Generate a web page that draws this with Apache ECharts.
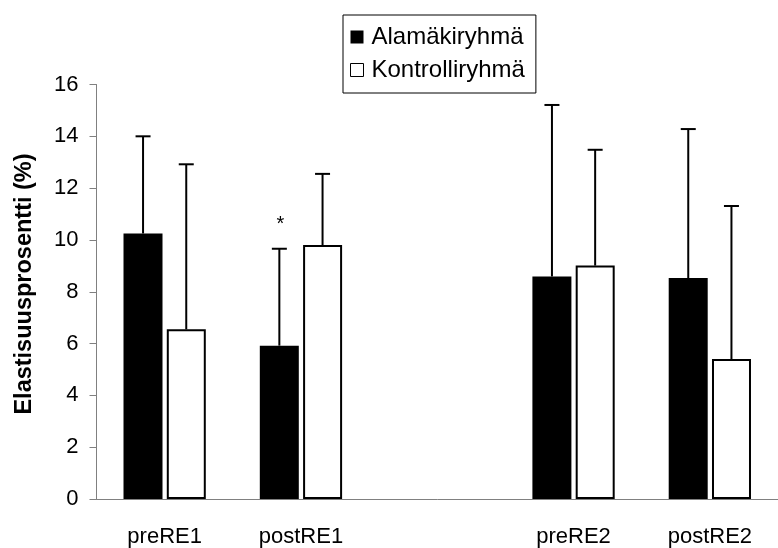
<!DOCTYPE html>
<html>
<head>
<meta charset="utf-8">
<script src="https://cdn.jsdelivr.net/npm/echarts@6/dist/echarts.min.js"></script>
<style>
html,body{margin:0;padding:0;background:#fff;}
#chart{width:778px;height:548px;}
</style>
</head>
<body>
<div id="chart"></div>
<script>
// Data
const categories = ['preRE1', 'postRE1', '', 'preRE2', 'postRE2'];
const alamakiMean = [10.25, 5.92, null, 8.59, 8.53];
const alamakiSD = [3.75, 3.74, null, 6.62, 5.75];
const kontrolliMean = [6.55, 9.80, null, 9.01, 5.40];
const kontrolliSD = [6.37, 2.75, null, 4.47, 5.91];
const alamakiSignificance = ['', '*', '', '', ''];
const kontrolliSignificance = ['', '', '', '', ''];
const yTicks = { min: 0, max: 16, interval: 2 };
const seriesNames = ['Alamäkiryhmä', 'Kontrolliryhmä'];
const yTitle = 'Elastisuusprosentti (%)';

const FONT = '"Liberation Sans", Arial, sans-serif';
const BAR_W = 39;
const HALF_OFFSET = 21.6;

function errData(mean, sd, sig) {
  const out = [];
  mean.forEach((m, i) => {
    if (m != null) out.push([i, m, sd[i], sig[i]]);
  });
  return out;
}

const chart = echarts.init(document.getElementById('chart'), null, { renderer: 'canvas' });

const alamakiErr = errData(alamakiMean, alamakiSD, alamakiSignificance);
const kontrolliErr = errData(kontrolliMean, kontrolliSD, kontrolliSignificance);

function makeRenderSig(offset, list) {
  return function (params, api) {
    const i = api.value(0);
    const m = api.value(1);
    const s = api.value(2);
    const p0 = api.coord([i, m]);
    const p1 = api.coord([i, m + s]);
    const x = p0[0] + offset;
    const style = { stroke: '#000', lineWidth: 2 };
    const children = [
      { type: 'line', shape: { x1: x, y1: p0[1], x2: x, y2: p1[1] }, style: style },
      { type: 'line', shape: { x1: x - 7.5, y1: p1[1], x2: x + 7.5, y2: p1[1] }, style: style }
    ];
    const sig = list[params.dataIndex][3];
    if (sig) {
      children.push({
        type: 'text',
        style: {
          text: sig, x: x + 1, y: p1[1] - 24,
          fill: '#000', font: '20px ' + FONT,
          align: 'center', verticalAlign: 'middle'
        }
      });
    }
    return { type: 'group', children: children };
  };
}

chart.setOption({
  animation: false,
  backgroundColor: '#fff',
  textStyle: { fontFamily: FONT, color: '#000' },
  grid: { left: 96.5, top: 84.5, bottom: 46.5, width: 692, containLabel: false },
  legend: {
    orient: 'vertical',
    left: 343,
    top: 15,
    padding: [10, 11, 11, 7],
    itemGap: 9,
    itemWidth: 13,
    itemHeight: 13,
    borderColor: '#000',
    borderWidth: 1,
    textStyle: { fontFamily: FONT, fontSize: 24, color: '#000', padding: [0, 0, 0, 3] },
    data: [
      { name: seriesNames[0], icon: 'rect', itemStyle: { color: '#000', borderWidth: 0 } },
      { name: seriesNames[1], icon: 'rect', itemStyle: { color: '#fff', borderColor: '#000', borderWidth: 1 } }
    ]
  },
  xAxis: {
    type: 'category',
    data: categories,
    axisLine: { lineStyle: { color: '#808080', width: 1 } },
    axisTick: { show: false },
    axisLabel: { fontFamily: FONT, fontSize: 22, color: '#000', margin: 27, interval: 0 }
  },
  yAxis: {
    type: 'value',
    min: yTicks.min,
    max: yTicks.max,
    interval: yTicks.interval,
    splitLine: { show: false },
    axisLine: { show: true, lineStyle: { color: '#808080', width: 1 } },
    axisTick: { show: true, inside: false, length: 7, lineStyle: { color: '#808080' } },
    axisLabel: { fontFamily: FONT, fontSize: 22, color: '#000', margin: 18 }
  },
  graphic: [
    {
      type: 'text',
      x: 25,
      y: 284,
      rotation: Math.PI / 2,
      style: {
        text: yTitle,
        font: 'bold 23.5px ' + FONT,
        fill: '#000',
        align: 'center',
        verticalAlign: 'middle'
      }
    }
  ],
  series: [
    {
      name: seriesNames[0],
      type: 'bar',
      data: alamakiMean,
      barWidth: BAR_W,
      barGap: '11%',
      itemStyle: { color: '#000' }
    },
    {
      name: seriesNames[1],
      type: 'bar',
      data: kontrolliMean,
      barWidth: BAR_W,
      barGap: '11%',
      itemStyle: { color: '#fff', borderColor: '#000', borderWidth: 2 }
    },
    {
      name: seriesNames[0] + ' SD',
      type: 'custom',
      data: alamakiErr,
      renderItem: makeRenderSig(-HALF_OFFSET, alamakiErr),
      z: 5,
      silent: true
    },
    {
      name: seriesNames[1] + ' SD',
      type: 'custom',
      data: kontrolliErr,
      renderItem: makeRenderSig(HALF_OFFSET, kontrolliErr),
      z: 5,
      silent: true
    }
  ]
});
</script>
</body>
</html>
